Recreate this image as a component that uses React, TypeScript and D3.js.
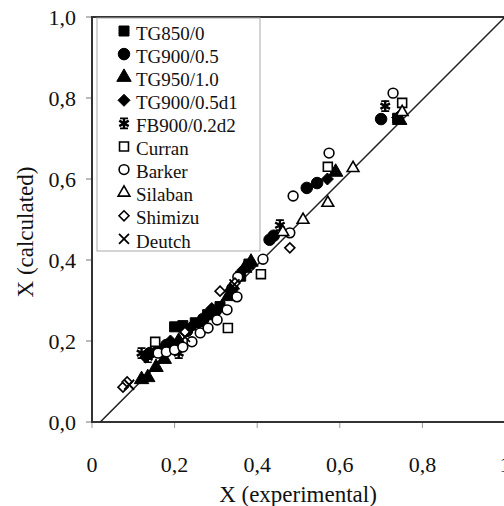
import React from "react";
import * as d3 from "d3";

const xTicks = [0, 0.2, 0.4, 0.6, 0.8, 1.0];
const xTickLabels = ["0", "0,2", "0,4", "0,6", "0,8", "1"];
const yTicks = [0, 0.2, 0.4, 0.6, 0.8, 1.0];
const yTickLabels = ["0,0", "0,2", "0,4", "0,6", "0,8", "1,0"];

const tg850: [number, number][] = [[0.2, 0.235], [0.22, 0.238], [0.25, 0.245], [0.28, 0.265], [0.31, 0.285], [0.36, 0.36], [0.38, 0.39], [0.74, 0.75]];
const tg900: [number, number][] = [[0.14, 0.17], [0.18, 0.19], [0.23, 0.225], [0.27, 0.255], [0.3, 0.275], [0.34, 0.33], [0.43, 0.45], [0.44, 0.46], [0.52, 0.578], [0.545, 0.59], [0.7, 0.748]];
const tg950: [number, number][] = [[0.12, 0.105], [0.135, 0.11], [0.155, 0.135], [0.175, 0.155], [0.21, 0.2], [0.26, 0.245], [0.33, 0.31], [0.37, 0.38], [0.385, 0.395], [0.59, 0.617], [0.745, 0.745]];
const tg900d1: [number, number][] = [[0.13, 0.16], [0.16, 0.18], [0.19, 0.2], [0.24, 0.235], [0.29, 0.28], [0.335, 0.325], [0.365, 0.375], [0.57, 0.6], [0.74, 0.752]];
const fb900: [number, number][] = [[0.12, 0.17], [0.135, 0.16], [0.21, 0.17], [0.25, 0.24], [0.455, 0.486], [0.71, 0.78]];
const curran: [number, number][] = [[0.153, 0.198], [0.329, 0.232], [0.409, 0.365], [0.571, 0.63], [0.751, 0.788]];
const barker: [number, number][] = [[0.16, 0.17], [0.18, 0.173], [0.2, 0.178], [0.22, 0.185], [0.242, 0.198], [0.262, 0.22], [0.281, 0.232], [0.303, 0.252], [0.327, 0.277], [0.351, 0.309], [0.353, 0.358], [0.414, 0.402], [0.479, 0.467], [0.487, 0.558], [0.574, 0.664], [0.729, 0.812]];
const silaban: [number, number][] = [[0.462, 0.469], [0.511, 0.499], [0.571, 0.541], [0.632, 0.627], [0.751, 0.765]];
const shimizu: [number, number][] = [[0.075, 0.086], [0.085, 0.099], [0.225, 0.222], [0.31, 0.323], [0.346, 0.343], [0.479, 0.43]];
const deutch: [number, number][] = [[0.09, 0.092], [0.225, 0.21], [0.345, 0.34]];

const seriesNames = ["TG850/0", "TG900/0.5", "TG950/1.0", "TG900/0.5d1", "FB900/0.2d2", "Curran", "Barker", "Silaban", "Shimizu", "Deutch"];
const seriesData = [tg850, tg900, tg950, tg900d1, fb900, curran, barker, silaban, shimizu, deutch];
const seriesShape = ["square", "circle", "triangle", "diamond", "star", "square", "circle", "triangle", "diamond", "x"];
const seriesFilled = [true, true, true, true, true, false, false, false, false, false];

const refLine: [number, number][] = [[0.02, 0], [1, 1]];

const W = 504;
const H = 506;
const x = d3.scaleLinear().domain([0, 1]).range([92, 505]);
const y = d3.scaleLinear().domain([0, 1]).range([422, 17]);

const FONT = "Liberation Serif, DejaVu Serif, serif";

function Marker({ shape, filled, cx, cy }: { shape: string; filled: boolean; cx: number; cy: number }) {
  const fill = filled ? "#000" : "#fff";
  const stroke = "#000";
  const sw = filled ? 1 : 1.6;
  if (shape === "star") {
    const r = 5.5;
    const lines = [90, 30, 150].map((a) => {
      const rad = (a * Math.PI) / 180;
      return `M${cx - r * Math.cos(rad)},${cy - r * Math.sin(rad)}L${cx + r * Math.cos(rad)},${cy + r * Math.sin(rad)}`;
    });
    return (
      <g>
        <path d={lines.join("")} stroke="#000" strokeWidth={2.4} fill="none" />
        <path d={`M${cx - 4},${cy - 5}L${cx + 4},${cy - 5}M${cx - 4},${cy + 5}L${cx + 4},${cy + 5}`} stroke="#000" strokeWidth={1.6} />
      </g>
    );
  }
  if (shape === "x") {
    const r = 5;
    return <path d={`M${cx - r},${cy - r}L${cx + r},${cy + r}M${cx - r},${cy + r}L${cx + r},${cy - r}`} stroke="#000" strokeWidth={1.8} fill="none" />;
  }
  if (shape === "diamond") {
    const r = filled ? 6 : 5;
    return <path d={`M${cx},${cy - r}L${cx + r},${cy}L${cx},${cy + r}L${cx - r},${cy}Z`} fill={fill} stroke={stroke} strokeWidth={sw} />;
  }
  const typeMap: Record<string, d3.SymbolType> = {
    square: d3.symbolSquare,
    circle: d3.symbolCircle,
    triangle: d3.symbolTriangle,
  };
  const sizeMap: Record<string, number> = {
    square: filled ? 100 : 80,
    circle: filled ? 105 : 75,
    triangle: filled ? 90 : 60,
  };
  const d = d3.symbol().type(typeMap[shape]).size(sizeMap[shape])() as string;
  return <path d={d} transform={`translate(${cx},${cy})`} fill={fill} stroke={stroke} strokeWidth={sw} />;
}

export default function App() {
  const line = d3.line<[number, number]>().x((d) => x(d[0])).y((d) => y(d[1]));
  return (
    <svg width={W} height={H} style={{ position: "absolute", left: 0, top: 0, background: "#fff" }}>
      <defs>
        <clipPath id="plot">
          <rect x={x(0)} y={y(1)} width={x(1) - x(0)} height={y(0) - y(1)} />
        </clipPath>
      </defs>
      <rect x={0} y={0} width={W} height={H} fill="#fff" />
      {yTicks.map((t, i) => (
        <g key={"y" + i}>
          <line x1={x(0) - 6} x2={x(0)} y1={y(t)} y2={y(t)} stroke="#777" strokeWidth={1} />
          <text x={76} y={y(t)} dy="0.35em" textAnchor="end" fontFamily={FONT} fontSize={22} fill="#111">
            {yTickLabels[i]}
          </text>
        </g>
      ))}
      {xTicks.map((t, i) => (
        <g key={"x" + i}>
          <line x1={x(t)} x2={x(t)} y1={y(0)} y2={y(0) + 6} stroke="#999" strokeWidth={1} />
          <text x={x(t)} y={472} textAnchor="middle" fontFamily={FONT} fontSize={22} fill="#111">
            {xTickLabels[i]}
          </text>
        </g>
      ))}
      <rect x={x(0)} y={y(1)} width={x(1) - x(0)} height={y(0) - y(1)} fill="none" stroke="#333" strokeWidth={2} />
      <path d={line(refLine) as string} stroke="#222" strokeWidth={1.5} fill="none" clipPath="url(#plot)" />
      <g clipPath="url(#plot)">
        {seriesData.map((data, si) =>
          data.map((p, pi) => (
            <Marker key={si + "-" + pi} shape={seriesShape[si]} filled={seriesFilled[si]} cx={x(p[0])} cy={y(p[1])} />
          ))
        )}
      </g>
      <rect x={97} y={18} width={163} height={233} fill="#fff" stroke="#aaa" strokeWidth={1} />
      {seriesNames.map((n, i) => {
        const cy = 33 + i * 23.1;
        return (
          <g key={"l" + i}>
            <Marker shape={seriesShape[i]} filled={seriesFilled[i]} cx={124} cy={cy - 2} />
            <text x={136} y={cy} dy="0.35em" fontFamily={FONT} fontSize={19} fill="#111">
              {n}
            </text>
          </g>
        );
      })}
      <text x={298} y={502} textAnchor="middle" fontFamily={FONT} fontSize={23} fill="#111">
        X (experimental)
      </text>
      <text transform={`translate(33,232) rotate(-90)`} textAnchor="middle" fontFamily={FONT} fontSize={23} fill="#111">
        X (calculated)
      </text>
    </svg>
  );
}
